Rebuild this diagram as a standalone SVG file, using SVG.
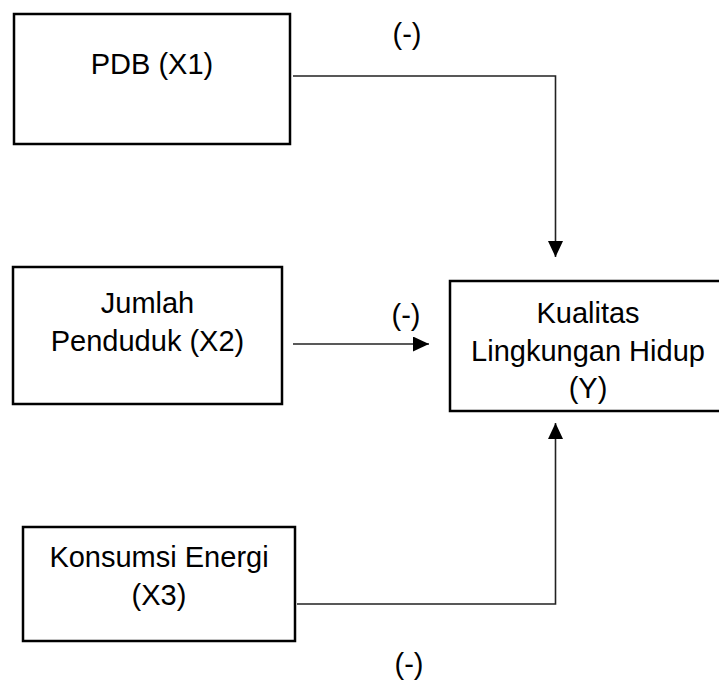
<svg xmlns="http://www.w3.org/2000/svg" width="719" height="680" viewBox="0 0 719 680">
<style>
.box{fill:#fff;stroke:#000;stroke-width:2.5}
.t{font-family:"Liberation Sans",Arial,sans-serif;font-size:29px;fill:#000;text-anchor:middle}
.c{fill:none;stroke:#222;stroke-width:1.6}
</style>
<defs>
<marker id="ah" markerUnits="userSpaceOnUse" markerWidth="16" markerHeight="16" refX="16" refY="7.5" orient="auto">
<path d="M0,0 L16,7.5 L0,15 Z" fill="#000"/>
</marker>
</defs>
<rect width="719" height="680" fill="#fff"/>
<g id="connectors">
<polyline class="c" points="293,76 555.5,76 555.5,257" marker-end="url(#ah)"/>
<line class="c" x1="293" y1="344" x2="429" y2="344" marker-end="url(#ah)"/>
<polyline class="c" points="297,604 555.5,604 555.5,423" marker-end="url(#ah)"/>
<text class="t" x="407" y="44">(-)</text>
<text class="t" x="406" y="325">(-)</text>
<text class="t" x="409" y="674">(-)</text>
</g>
<g id="x1">
<rect class="box" x="14" y="14" width="276" height="130"/>
<text class="t" x="152" y="74">PDB (X1)</text>
</g>
<g id="x2">
<rect class="box" x="13" y="267" width="269" height="137"/>
<text class="t" x="147.5" y="313">Jumlah</text>
<text class="t" x="147.5" y="351">Penduduk (X2)</text>
</g>
<g id="x3">
<rect class="box" x="23" y="527" width="272" height="114"/>
<text class="t" x="159" y="567">Konsumsi Energi</text>
<text class="t" x="159" y="605">(X3)</text>
</g>
<g id="y">
<rect class="box" x="450" y="281" width="275" height="130"/>
<text class="t" x="588" y="323">Kualitas</text>
<text class="t" x="588" y="361">Lingkungan Hidup</text>
<text class="t" x="588" y="398">(Y)</text>
</g>
</svg>
